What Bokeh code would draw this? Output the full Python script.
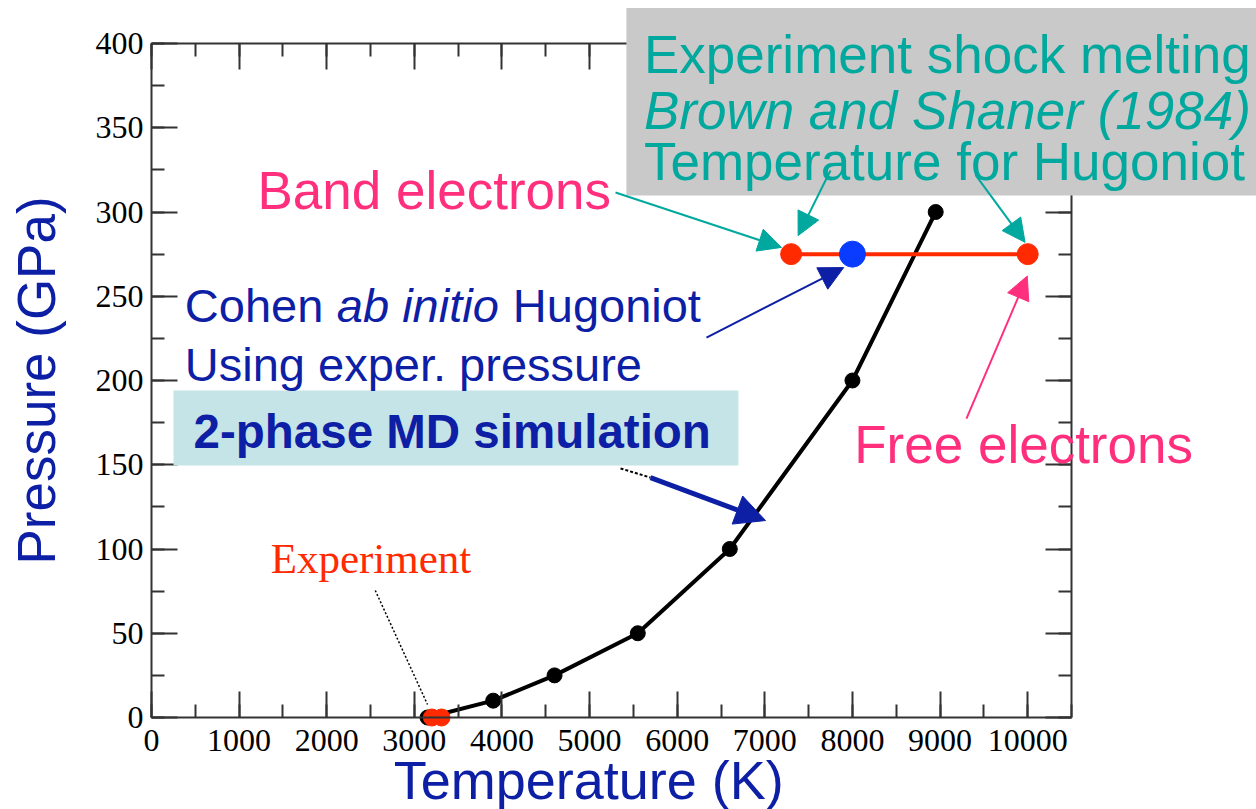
from bokeh.plotting import figure
from bokeh.models import (Range1d, LinearAxis, SingleIntervalTicker, Label,
                          BoxAnnotation, Arrow, NormalHead)
from bokeh.embed import file_html
from bokeh.resources import INLINE

# ---------------- data ----------------
sim_T = [3150, 3900, 4600, 5550, 6600, 8000, 8950]      # 2-phase MD simulation
sim_P = [0, 10, 25, 50, 100, 200, 300]
exp_T = [3200, 3310]                                     # experiment melting
exp_P = [0, 0]
hug_T = [7300, 10000]                                    # band / free electrons
hug_P = [275, 275]
cohen_T = [8000]                                         # Cohen ab initio
cohen_P = [275]

x_lim = (0, 10500)
y_lim = (0, 400)
x_ticks_interval = 1000
y_ticks_interval = 50

DARKBLUE = "#0d20a5"
TEAL = "#00a89e"
PINK = "#ff2f7e"
RED = "#ff2a00"
SANS = "Liberation Sans"
SERIF = "Liberation Serif"

# The plotting frame fills the whole canvas; the axes box (0..10500, 0..400)
# sits at pixels x 151..1071, y 43..717, so annotations can go in the margins.
W, H = 1256, 809
L_PX, R_PX, T_PX, B_PX = 151, 1071, 43, 717
sx = (R_PX - L_PX) / (x_lim[1] - x_lim[0])
sy = (B_PX - T_PX) / (y_lim[1] - y_lim[0])
x_range = Range1d(x_lim[0] - L_PX / sx, x_lim[0] + (W - L_PX) / sx)
y_range = Range1d(y_lim[0] - (H - B_PX) / sy, y_lim[0] + B_PX / sy)

p = figure(width=W, height=H, output_backend="svg", toolbar_location=None,
           x_range=x_range, y_range=y_range,
           min_border=0, min_border_left=0, min_border_right=0,
           min_border_top=0, min_border_bottom=0,
           x_axis_type=None, y_axis_type=None)
p.outline_line_color = None
p.background_fill_color = "white"
p.border_fill_color = "white"


def style_axis(ax, show_labels, standoff):
    ax.axis_line_color = "#333333"
    ax.axis_line_width = 2
    ax.major_tick_line_color = "#333333"
    ax.minor_tick_line_color = "#333333"
    ax.major_tick_line_width = 2
    ax.minor_tick_line_width = 2
    ax.major_tick_in = 26
    ax.major_tick_out = 0
    ax.minor_tick_in = 13
    ax.minor_tick_out = 0
    ax.major_label_standoff = standoff
    if show_labels:
        ax.major_label_text_font = SERIF
        ax.major_label_text_font_size = "32px"
        ax.major_label_text_color = "black"
    else:
        ax.major_label_text_font_size = "0px"
        ax.major_label_text_color = None


bottom = LinearAxis(ticker=SingleIntervalTicker(interval=x_ticks_interval, num_minor_ticks=2),
                    fixed_location=y_lim[0], bounds=x_lim)
top = LinearAxis(ticker=SingleIntervalTicker(interval=x_ticks_interval, num_minor_ticks=2),
                 fixed_location=y_lim[1], bounds=x_lim)
left = LinearAxis(ticker=SingleIntervalTicker(interval=y_ticks_interval, num_minor_ticks=2),
                  fixed_location=x_lim[0], bounds=y_lim)
right = LinearAxis(ticker=SingleIntervalTicker(interval=y_ticks_interval, num_minor_ticks=2),
                   fixed_location=x_lim[1], bounds=y_lim)
style_axis(bottom, True, 12)
style_axis(left, True, 8)
style_axis(top, False, 0)
style_axis(right, False, 0)
p.add_layout(bottom, "below")
p.add_layout(left, "left")
p.add_layout(top, "above")
p.add_layout(right, "right")

# ---------------- marks ----------------
p.line(sim_T, sim_P, line_color="black", line_width=4)
p.scatter(sim_T, sim_P, size=15, color="black")
p.line(hug_T, hug_P, line_color=RED, line_width=4)
p.scatter(exp_T, exp_P, size=17, color=RED)
p.scatter(hug_T, hug_P, size=21, color=RED)
p.scatter(cohen_T, cohen_P, size=26, color="#0a3cff")

# ---------------- annotations ----------------
KX = 1 / sx   # data units per pixel in x

# boxes
p.add_layout(BoxAnnotation(left=251, right=6699, bottom=149.6, top=194,
                           fill_color="#c5e4e8", fill_alpha=1, line_color=None))
p.add_layout(BoxAnnotation(left=5420, right=12700, bottom=309.8, top=421,
                           fill_color="#c9c9c9", fill_alpha=1, line_color=None))


def lab(x, y, t, color, size, font=SANS, style="normal", align="left", angle=0):
    p.add_layout(Label(x=x, y=y, text=t, text_color=color, text_font=font,
                       text_font_size=size, text_font_style=style,
                       text_align=align, text_baseline="alphabetic", angle=angle))


# gray box text
lab(5620, 393.5, "Experiment shock melting", TEAL, "53px")
lab(5620, 360.4, "Brown and Shaner (1984)", TEAL, "53px", style="italic")
lab(5620, 329.8, "Temperature for Hugoniot", TEAL, "53px")

lab(1210, 312.6, "Band electrons", PINK, "53px")
lab(8020, 162, "Free electrons", PINK, "53px")

lab(380, 244.5, "Cohen ", DARKBLUE, "47px")
lab(380 + 152 * KX, 244.5, "ab initio", DARKBLUE, "47px", style="italic")
lab(380 + 328 * KX, 244.5, "Hugoniot", DARKBLUE, "47px")
lab(380, 209.5, "Using exper. pressure", DARKBLUE, "47px")
lab(480, 169.7, "2-phase MD simulation", DARKBLUE, "47.5px", style="bold")

lab(1360, 94.3, "Experiment", RED, "43px", font=SERIF)

# axis titles
lab(4990, -36.8, "Temperature (K)", DARKBLUE, "54px", align="center")
lab(-1312, 200, "Pressure (GPa)", DARKBLUE, "53px", align="center", angle=1.5708)


def arrow(x0, y0, x1, y1, color, width, head_size=None, dash="solid"):
    head = None
    if head_size:
        head = NormalHead(size=head_size, fill_color=color, line_color=color)
    p.add_layout(Arrow(x_start=x0, y_start=y0, x_end=x1, y_end=y1,
                       line_color=color, line_width=width, line_dash=dash, end=head))


# teal arrows
arrow(5296, 311.6, hug_T[0] - 110, hug_P[0] + 4, TEAL, 2, 23)
arrow(7749, 324.6, hug_T[0] + 80, hug_P[0] + 11, TEAL, 2, 23)
arrow(9404, 322, hug_T[1] - 30, hug_P[1] + 7, TEAL, 2, 23)
# pink arrow (free electrons)
arrow(9301, 177.4, hug_T[1] - 5, hug_P[1] - 13, PINK, 2, 23)
# dark blue arrow (Cohen)
arrow(6334, 225.5, cohen_T[0] - 100, cohen_P[0] - 8, DARKBLUE, 2, 24)
# 2-phase arrow
arrow(5353, 147.8, 5695, 142.4, "black", 2, dash="3 2")
arrow(5695, 142.4, 7008, 116.9, DARKBLUE, 5, 30)
# experiment pointer
arrow(2554, 75.4, 3150, 7.7, "black", 1.5, dash="2 2")

open("out.html", "w").write(file_html(p, INLINE))
